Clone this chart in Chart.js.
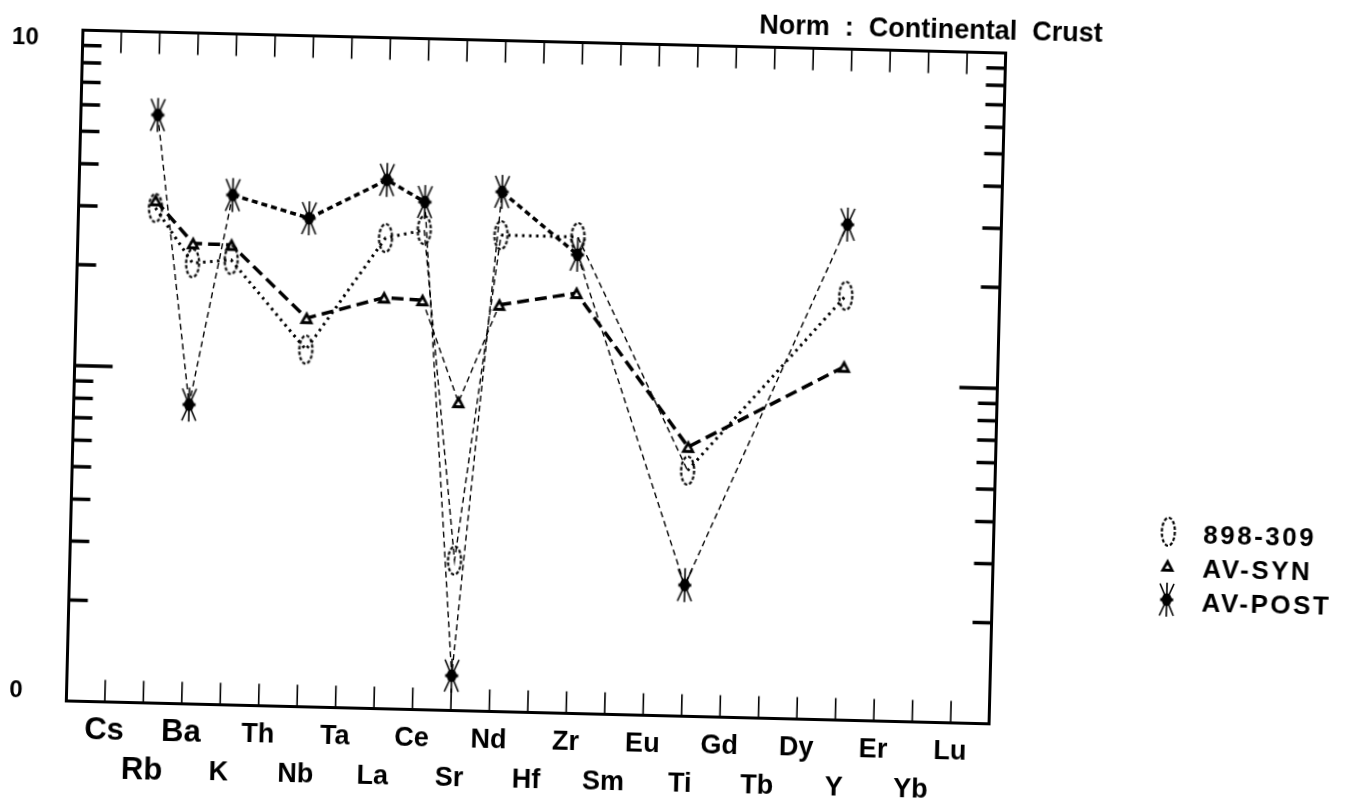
<!DOCTYPE html>
<html lang="en">
<head>
<meta charset="UTF-8">
<title>Spidergram - Norm : Continental Crust</title>
<script src="https://cdn.jsdelivr.net/npm/chart.js"></script>
<style>
  html, body {
    margin: 0;
    padding: 0;
    background: #fff;
    overflow: hidden;
  }
  /* the scanned original sits slightly askew on the page */
  #wrap {
    position: absolute;
    left: 0;
    top: 0;
    width: 1345px;
    height: 798px;
    transform: rotate(1.42deg);
    transform-origin: 536px 377px;
  }
</style>
</head>
<body>
<div id="wrap"><canvas id="spider" width="1345" height="798"></canvas></div>

<script>
  // element order along the x axis
  const elements = ['Cs', 'Rb', 'Ba', 'K', 'Th', 'Nb', 'Ta', 'La', 'Ce', 'Sr', 'Nd', 'Hf',
                    'Zr', 'Sm', 'Eu', 'Ti', 'Gd', 'Tb', 'Dy', 'Y', 'Er', 'Yb', 'Lu'];

  // crust-normalised values, null = not plotted
  const s898309 = [null, 2.99, 2.06, 2.12, null, 1.16, null, 2.53, 2.69, 0.28, 2.63, null,
                   2.63, null, null, 0.54, null, null, null, 1.84, null, null, null];
  const avSyn   = [null, 3.15, 2.36, 2.35, null, 1.44, null, 1.68, 1.66, 0.83, 1.63, null,
                   1.79, null, null, 0.635, null, null, null, 1.13, null, null, null];
  const avPost  = [null, 5.66, 0.78, 3.31, null, 2.86, null, 3.77, 3.26, 0.127, 3.54, null,
                   2.33, null, null, 0.246, null, null, null, 3.00, null, null, null];

  const seriesNames = ['898-309', 'AV-SYN', 'AV-POST'];
  const normTitle = 'Norm  :  Continental  Crust';

  // log axis: only the ends are labelled in the original
  const yTickLabels = { 10: ['', '10'], 0.1: ['0', ''] };
  const yTickMarks = [0.2, 0.3, 0.4, 0.5, 0.6, 0.7, 0.8, 0.9, 1, 2, 3, 4, 5, 6, 7, 8, 9];

  // these three were lettered in a narrow face
  const typedLabels = ['Cs', 'Rb', 'Ba'];

  const FONT = "'Liberation Sans', Arial, sans-serif";
  const TYPED_FONT = "'Liberation Sans Narrow', 'Arial Narrow', 'Liberation Sans', sans-serif";
  Chart.defaults.font.family = FONT;
  Chart.defaults.font.weight = 'bold';
  Chart.defaults.color = '#000';

  // --- plotter style markers ---
  function makeMarker(w, h, draw) {
    const c = document.createElement('canvas');
    c.width = w;
    c.height = h;
    const g = c.getContext('2d');
    g.strokeStyle = '#000';
    g.fillStyle = '#000';
    draw(g, w, h);
    return c;
  }

  const ovalMark = makeMarker(18, 32, (g, w, h) => {
    g.lineWidth = 2.2;
    g.setLineDash([3.5, 2]);
    g.beginPath();
    g.ellipse(w / 2, h / 2, 6.5, 14, 0, 0, Math.PI * 2);
    g.stroke();
  });

  const triMark = makeMarker(16, 16, (g, w, h) => {
    g.beginPath();
    g.moveTo(w / 2, 1);
    g.lineTo(w - 1, h - 2);
    g.lineTo(1, h - 2);
    g.closePath();
    g.fill();
    g.fillStyle = '#fff';
    g.beginPath();
    g.moveTo(w / 2, 7);
    g.lineTo(w / 2 + 2.5, h - 5);
    g.lineTo(w / 2 - 2.5, h - 5);
    g.closePath();
    g.fill();
  });

  const starMark = makeMarker(18, 36, (g, w, h) => {
    const cx = w / 2, cy = h / 2;
    g.lineWidth = 1.6;
    g.beginPath();
    g.moveTo(cx, 1); g.lineTo(cx, h - 1);
    g.moveTo(cx, cy); g.lineTo(2, 2);
    g.moveTo(cx, cy); g.lineTo(w - 2, 2);
    g.moveTo(cx, cy); g.lineTo(2, h - 2);
    g.moveTo(cx, cy); g.lineTo(w - 2, h - 2);
    g.stroke();
    g.beginPath();
    g.ellipse(cx, cy, 5, 6.5, 0, 0, Math.PI * 2);
    g.fill();
    g.fillRect(cx - 6.5, cy - 1.5, 13, 3);
  });

  const markers = [ovalMark, triMark, starMark];

  // steep strokes came out thin on the old plotter
  function isSteep(ctx) {
    const pts = ctx.chart.getDatasetMeta(ctx.datasetIndex).data;
    let a = ctx.p0DataIndex, b = ctx.p1DataIndex;
    while (a > 0 && pts[a].skip) a--;
    while (b < pts.length - 1 && pts[b].skip) b++;
    const p0 = pts[a], p1 = pts[b];
    if (!p0 || !p1 || p0.skip || p1.skip) return false;
    return Math.abs(p1.y - p0.y) > 1.8 * Math.abs(p1.x - p0.x);
  }

  function lineStyle(width, dash) {
    return {
      borderWidth: ctx => isSteep(ctx) ? 1.4 : width,
      borderDash: ctx => isSteep(ctx) ? [6, 4] : dash
    };
  }

  const padded = arr => [null, ...arr, null];
  const labels = ['', ...elements, ''];

  // frame, inward tick marks and the legend block
  const framePlugin = {
    id: 'framePlugin',
    beforeDatasetsDraw(chart) {
      const { ctx, chartArea: a, scales } = chart;
      ctx.save();
      ctx.strokeStyle = '#000';
      ctx.lineCap = 'butt';

      ctx.lineWidth = 3.5;
      yTickMarks.forEach(v => {
        const y = scales.y.getPixelForValue(v);
        const len = v === 1 ? 38 : 19;
        ctx.beginPath();
        ctx.moveTo(a.left, y);
        ctx.lineTo(a.left + len, y);
        ctx.moveTo(a.right, y);
        ctx.lineTo(a.right - len, y);
        ctx.stroke();
      });

      ctx.lineWidth = 1.6;
      elements.forEach((el, i) => {
        const x = scales.x.getPixelForValue(i + 1);
        ctx.beginPath();
        ctx.moveTo(x, a.bottom);
        ctx.lineTo(x, a.bottom - 22);
        ctx.moveTo(x, a.top);
        ctx.lineTo(x, a.top + 22);
        ctx.stroke();
      });

      ctx.lineWidth = 3;
      ctx.strokeRect(a.left, a.top, a.right - a.left, a.bottom - a.top);
      ctx.restore();
    },
    afterDraw(chart) {
      const ctx = chart.ctx;
      ctx.save();
      ctx.fillStyle = '#000';
      ctx.font = 'bold 26px ' + FONT;
      ctx.textBaseline = 'middle';
      ctx.letterSpacing = '2.5px';
      seriesNames.forEach((name, i) => {
        const y = 519 + i * 34;
        const m = markers[i];
        ctx.drawImage(m, 1172 - m.width / 2, y - 3 - m.height / 2);
        ctx.fillText(name, 1207, y + 1);
      });
      ctx.restore();
    }
  };

  new Chart(document.getElementById('spider'), {
    type: 'line',
    data: {
      labels,
      datasets: [
        {
          label: seriesNames[0],
          data: padded(s898309),
          borderColor: '#000',
          borderWidth: 3,
          borderDash: [2.5, 4.5],
          pointStyle: ovalMark,
          pointRadius: 6,
          spanGaps: true,
          segment: lineStyle(3, [2.5, 4.5])
        },
        {
          label: seriesNames[1],
          data: padded(avSyn),
          borderColor: '#000',
          borderWidth: 3.5,
          borderDash: [12, 6],
          pointStyle: triMark,
          pointRadius: 6,
          spanGaps: true,
          segment: lineStyle(3.5, [12, 6])
        },
        {
          label: seriesNames[2],
          data: padded(avPost),
          borderColor: '#000',
          borderWidth: 3.5,
          borderDash: [6, 4],
          pointStyle: starMark,
          pointRadius: 6,
          spanGaps: true,
          segment: lineStyle(3.5, [6, 4])
        }
      ]
    },
    options: {
      responsive: false,
      animation: false,
      layout: { padding: { left: 0, top: 0, right: 251, bottom: 0 } },
      plugins: {
        legend: { display: false },
        tooltip: { enabled: false },
        title: {
          display: true,
          text: normTitle,
          align: 'end',
          color: '#000',
          font: { family: FONT, size: 27, weight: 'bold', lineHeight: 1.1 },
          padding: { top: 6, bottom: 5.8 }
        }
      },
      scales: {
        x: {
          type: 'category',
          offset: false,
          grid: { display: false, drawTicks: false },
          border: { display: false },
          ticks: {
            autoSkip: false,
            maxRotation: 0,
            padding: 9,
            color: '#000',
            font: ctx => {
              const name = ctx.tick ? labels[ctx.tick.value] : '';
              return typedLabels.includes(name)
                ? { family: TYPED_FONT, size: 31, weight: 'bold', lineHeight: 39.15 / 31 }
                : { family: FONT, size: 27, weight: 'bold', lineHeight: 1.45 };
            },
            callback(value, index) {
              const name = this.getLabelForValue(value);
              if (!name) return '';
              return (index - 1) % 2 === 0 ? [name, ''] : ['', name];
            }
          },
          afterFit(scale) { scale.height = 85.5; }
        },
        y: {
          type: 'logarithmic',
          position: 'left',
          min: 0.1,
          max: 10,
          grid: { display: false, drawTicks: false },
          border: { display: false },
          ticks: {
            autoSkip: false,
            padding: 44,
            color: '#000',
            font: { size: 24, lineHeight: 0.72 },
            callback: v => yTickLabels[v] ?? ''
          },
          afterFit(scale) {
            scale.width = 74.5;
            // keep the wide label gap from pushing the plot down
            scale.paddingTop = 0;
            scale.paddingBottom = 0;
          }
        },
        y2: {
          type: 'logarithmic',
          position: 'right',
          min: 0.1,
          max: 10,
          grid: { display: false, drawTicks: false },
          border: { display: false },
          ticks: { display: false },
          afterFit(scale) { scale.width = 96.5; }
        }
      }
    },
    plugins: [framePlugin]
  });
</script>
</body>
</html>
